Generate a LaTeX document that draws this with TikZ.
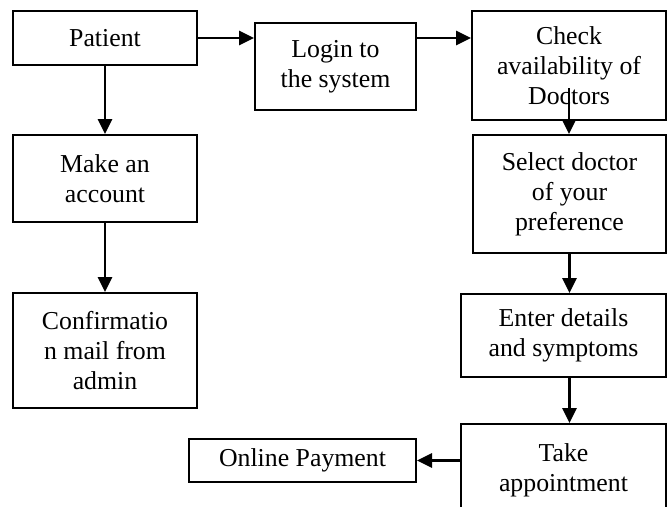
\documentclass[tikz,border=0pt]{standalone}
\usepackage{fontspec}
\setmainfont{Liberation Serif}
\usetikzlibrary{arrows.meta}
\begin{document}
\begin{tikzpicture}[x=1pt,y=-1pt,
  box/.style={draw,line width=2pt,align=center,inner sep=0pt,font=\fontsize{25.8}{30}\selectfont},
  flow/.style={line width=2.8pt,-{Triangle[length=15pt,width=14pt]}}]
\useasboundingbox (0,0) rectangle (669,506);
% left column
\node[box,minimum width=184pt,minimum height=54pt] (pat) at (105,38) {Patient};
\node[box,minimum width=184pt,minimum height=87pt] (acct) at (105,178.5) {Make an\\account};
\node[box,minimum width=184pt,minimum height=115pt] (conf) at (105,350.5) {Confirmatio\\n mail from\\admin};
% middle
\node[box,minimum width=161pt,minimum height=87pt] (login) at (335.5,66.5) {Login to\\the system};
\node[box,minimum width=227pt,minimum height=43pt] (pay) at (302.5,460.5) {Online Payment};
% right column
\node[box,minimum width=194pt,minimum height=109pt] (chk) at (569,65.5) {Check\\availability of\\Doctors};
\node[box,minimum width=193pt,minimum height=118pt] (sel) at (569.5,194) {Select doctor\\of your\\preference};
\node[box,minimum width=205pt,minimum height=83pt] (ent) at (563.5,335.5) {Enter details\\and symptoms};
\node[box,minimum width=205pt,minimum height=92pt] (take) at (563.5,470) {Take\\appointment};
% arrows
\coordinate (chkin) at ([yshift=33pt]chk.south);
\draw[flow] (pat.east) -- (pat.east -| login.west);
\draw[flow] (pat.east -| login.east) -- (pat.east -| chk.west);
\draw[flow] (pat.south) -- (acct.north);
\draw[flow] (acct.south) -- (conf.north);
\draw[flow] (chkin) -- (chkin |- sel.north);
\draw[flow] (sel.south) -- (sel.south |- ent.north);
\draw[flow] (sel.south |- ent.south) -- (sel.south |- take.north);
\draw[flow] (pay.east -| take.west) -- (pay.east);
\end{tikzpicture}
\end{document}
